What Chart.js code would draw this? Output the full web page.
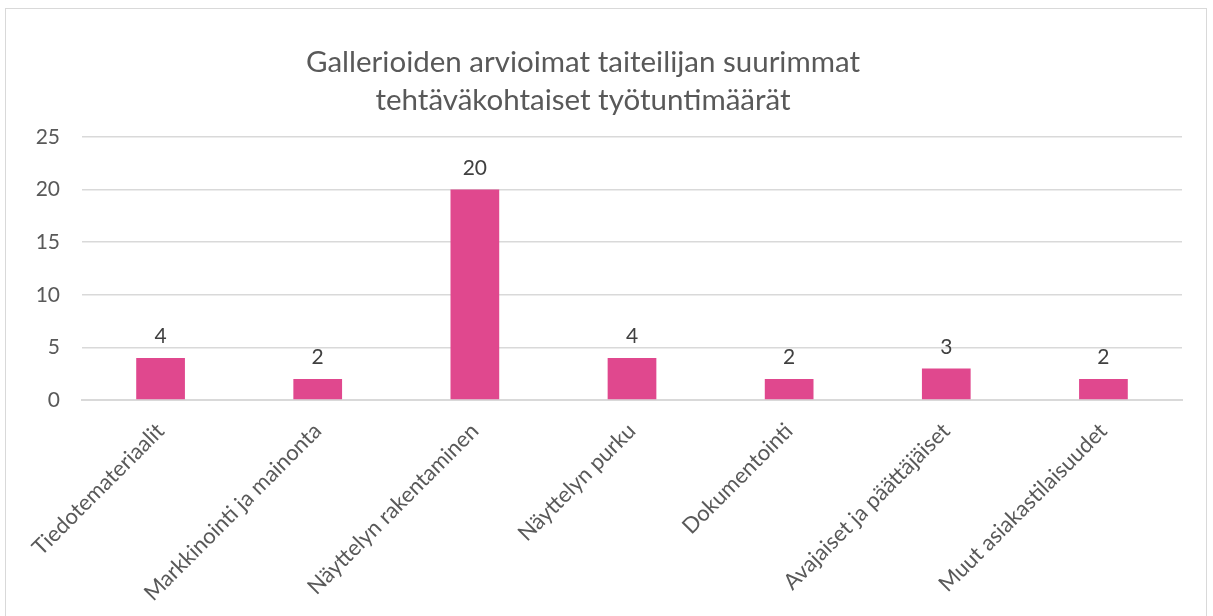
<!DOCTYPE html>
<html>
<head>
<meta charset="utf-8">
<script src="https://cdn.jsdelivr.net/npm/chart.js@4"></script>
<style>
  body { margin: 0; background: #fff; }
  .chart-frame {
    position: absolute; left: 5px; top: 8px;
    width: 1200px; height: 620px;
    border: 1px solid #d9d9d9;
  }
</style>
</head>
<body>
<div class="chart-frame">
  <canvas id="tyotunnit" width="1200" height="620"></canvas>
</div>
<script>
const categories = [
  'Tiedotemateriaalit',
  'Markkinointi ja mainonta',
  'Näyttelyn rakentaminen',
  'Näyttelyn purku',
  'Dokumentointi',
  'Avajaiset ja päättäjäiset',
  'Muut asiakastilaisuudet'
];
const tunnit = [4, 2, 20, 4, 2, 3, 2];
const yTicks = [0, 5, 10, 15, 20, 25];
const otsikko = ['Gallerioiden arvioimat taiteilijan suurimmat', 'tehtäväkohtaiset työtuntimäärät'];

const fontti = 'Lato, "Open Sans", sans-serif';

// otsikko piirretään itse, jotta se on samassa kohdassa kuin Excelissä
const otsikkoPlugin = {
  id: 'otsikko',
  afterDraw(chart) {
    const ctx = chart.ctx;
    ctx.save();
    ctx.fillStyle = '#595959';
    ctx.font = '29.5px ' + fontti;
    ctx.textAlign = 'center';
    ctx.textBaseline = 'middle';
    ctx.fillText(otsikko[0], 577, 53);
    ctx.fillText(otsikko[1], 577, 91);
    ctx.restore();
  }
};

const arvoPlugin = {
  id: 'arvot',
  afterDatasetsDraw(chart) {
    const ctx = chart.ctx;
    const meta = chart.getDatasetMeta(0);
    ctx.save();
    ctx.fillStyle = '#404040';
    ctx.font = '21px ' + fontti;
    ctx.textAlign = 'center';
    ctx.textBaseline = 'bottom';
    meta.data.forEach((bar, i) => {
      ctx.fillText(tunnit[i], bar.x, bar.y - 11);
    });
    ctx.restore();
  }
};

new Chart(document.getElementById('tyotunnit'), {
  type: 'bar',
  data: {
    labels: categories,
    datasets: [{
      data: tunnit,
      backgroundColor: '#e0488e',
      borderWidth: 0,
      categoryPercentage: 1,
      barPercentage: 0.31
    }]
  },
  options: {
    responsive: false,
    animation: false,
    layout: { padding: { top: 128, right: 24, left: 0, bottom: 0 } },
    plugins: {
      legend: { display: false },
      title: { display: false },
      tooltip: { enabled: false }
    },
    scales: {
      x: {
        grid: { display: false, drawTicks: false },
        border: { color: '#d9d9d9', width: 2 },
        ticks: {
          color: '#595959',
          font: { family: fontti, size: 22 },
          minRotation: 45,
          maxRotation: 45,
          padding: 18
        },
        afterFit(scale) {
          scale.height = 229;
          // kiertyneet nimet eivät saa siirtää piirtoaluetta
          scale.paddingLeft = 0;
          scale.paddingRight = 0;
        }
      },
      y: {
        min: 0,
        max: 25,
        afterBuildTicks(scale) { scale.ticks = yTicks.map(v => ({ value: v })); },
        grid: { color: '#d9d9d9', lineWidth: 1.5, drawTicks: false },
        border: { display: false },
        ticks: {
          color: '#595959',
          font: { family: fontti, size: 21 },
          padding: 22
        },
        afterFit(scale) {
          scale.width = 76;
          scale.paddingTop = 0;
          scale.paddingBottom = 0;
        }
      }
    }
  },
  plugins: [otsikkoPlugin, arvoPlugin]
});
</script>
</body>
</html>
